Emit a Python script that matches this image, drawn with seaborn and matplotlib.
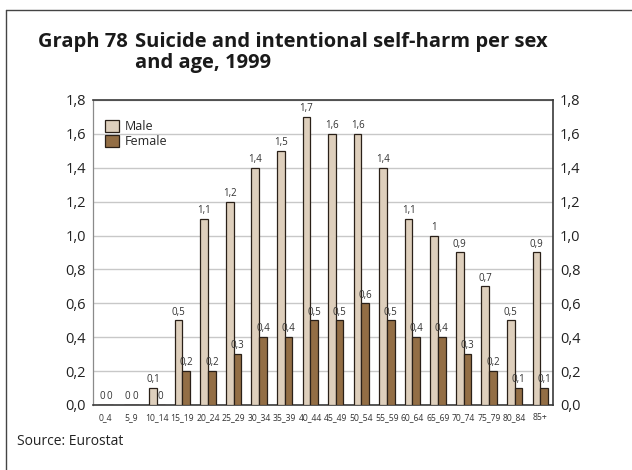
import matplotlib
matplotlib.use("Agg")
import matplotlib.pyplot as plt
import seaborn as sns
import pandas as pd
from matplotlib.lines import Line2D

# dati
ages = ["0_4", "5_9", "10_14", "15_19", "20_24", "25_29", "30_34", "35_39", "40_44",
        "45_49", "50_54", "55_59", "60_64", "65_69", "70_74", "75_79", "80_84", "85+"]
male = [0, 0, 0.1, 0.5, 1.1, 1.2, 1.4, 1.5, 1.7, 1.6, 1.6, 1.4, 1.1, 1.0, 0.9, 0.7, 0.5, 0.9]
female = [0, 0, 0, 0.2, 0.2, 0.3, 0.4, 0.4, 0.5, 0.5, 0.6, 0.5, 0.4, 0.4, 0.3, 0.2, 0.1, 0.1]
y_ticks = [0.0, 0.2, 0.4, 0.6, 0.8, 1.0, 1.2, 1.4, 1.6, 1.8]

df = pd.DataFrame({
    "age": ages * 2,
    "value": male + female,
    "sex": ["Male"] * len(ages) + ["Female"] * len(ages),
})

sns.set_style("white")
plt.rcParams["font.family"] = ["Open Sans", "DejaVu Sans"]

fig = plt.figure(figsize=(6.32, 4.70), dpi=100)
ax = fig.add_axes([93 / 632, 1 - 405 / 470, 460 / 632, 305 / 470])

colors = {"Male": "#E4CFB6", "Female": "#A06E38"}
sns.barplot(data=df, x="age", y="value", hue="sex", palette=colors, width=0.6,
            edgecolor="#2a2018", linewidth=0.9, ax=ax, zorder=3)

def fmt(v):
    if v == 0:
        return "0"
    if v == int(v):
        return str(int(v))
    return f"{v:.1f}".replace(".", ",")

for cont, vals in zip(ax.containers, [male, female]):
    ax.bar_label(cont, labels=[fmt(v) for v in vals], padding=2, fontsize=7, color="#333333")

ax.set_ylim(0, 1.8)
ax.set_yticks(y_ticks)
ax.set_yticklabels([f"{t:.1f}".replace(".", ",") for t in y_ticks])
ax.tick_params(axis="y", labelsize=10.5, labelright=True, length=0, pad=5, colors="#222222")
ax.tick_params(axis="x", labelsize=6.2, length=0, pad=6, colors="#333333")
ax.set_xlabel("")
ax.set_ylabel("")
ax.yaxis.grid(True, color="#c8c8c8", linewidth=1, zorder=0)
ax.set_axisbelow(True)

for s in ["top", "right", "bottom"]:
    ax.spines[s].set_color("#3a3a3a")
    ax.spines[s].set_linewidth(1.2)
ax.spines["left"].set_color("#8a8a8a")
ax.spines["left"].set_linewidth(0.9)

leg = ax.legend(loc="upper left", bbox_to_anchor=(0.01, 0.96), frameon=False, fontsize=9,
                handlelength=1.1, handleheight=1.1, handletextpad=0.5, labelspacing=0.15,
                borderaxespad=0.2)

# titolo e fonte
fig.text(38 / 632, 1 - 32 / 470, "Graph 78", fontsize=14.5, fontweight="bold", color="#1a1a1a",
         va="top")
fig.text(135 / 632, 1 - 32 / 470, "Suicide and intentional self-harm per sex\nand age, 1999",
         fontsize=14.5, fontweight="bold", color="#1a1a1a", va="top", linespacing=1.05)
fig.text(17 / 632, 1 - 445 / 470, "Source: Eurostat", fontsize=10, color="#222222")

# cornice esterna
fig.add_artist(Line2D([6 / 632, 6 / 632], [0, 1 - 10 / 470], transform=fig.transFigure,
                      color="#444444", linewidth=1))
fig.add_artist(Line2D([6 / 632, 1], [1 - 10 / 470, 1 - 10 / 470], transform=fig.transFigure,
                      color="#444444", linewidth=1))

fig.savefig("out.png", dpi=100)
